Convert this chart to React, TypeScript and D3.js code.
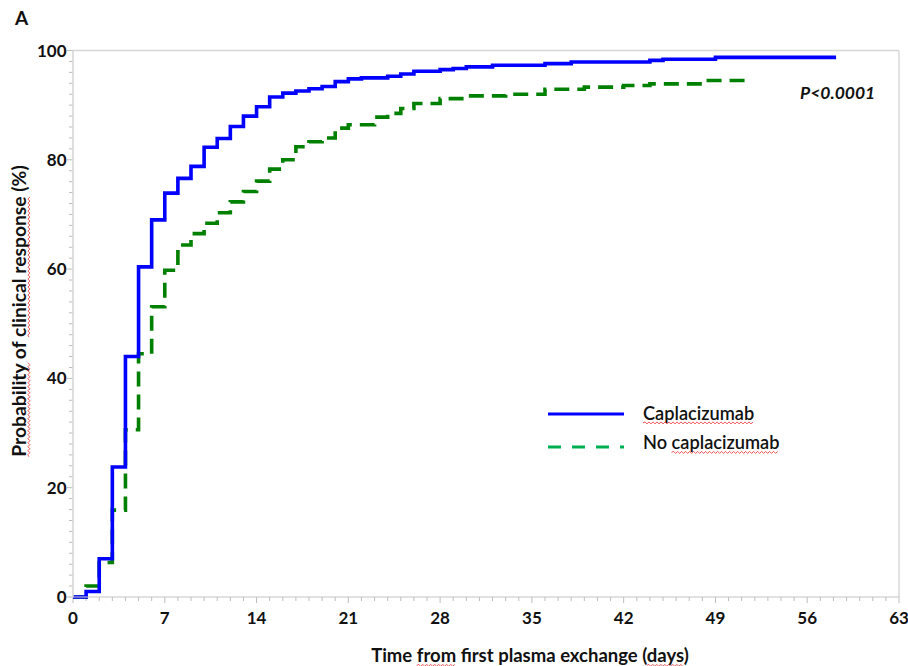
import React, { useEffect, useRef } from "react";
import * as d3 from "d3";

const W = 908;
const H = 666;

// Kaplan–Meier curves: day of each step and cumulative clinical response (%) after it
const caplaDays = [0, 1, 2, 3, 4, 5, 6, 7, 8, 9, 10, 11, 12, 13, 14, 15, 16, 17, 18, 19, 20, 21, 22, 24, 25, 26, 28, 29, 30, 32, 36, 38, 44, 45, 49];
const caplaPct = [0, 1.0, 7.0, 23.8, 44.0, 60.4, 69.0, 73.9, 76.6, 78.8, 82.3, 83.9, 86.1, 88.0, 89.7, 91.5, 92.2, 92.6, 93.0, 93.4, 94.3, 94.8, 95.0, 95.3, 95.7, 96.2, 96.5, 96.7, 97.0, 97.3, 97.6, 97.9, 98.2, 98.4, 98.75];
const caplaLastDay = 58.2;

const noCaplaDays = [0, 1, 2, 3, 4, 5, 6, 7, 8, 9, 10, 11, 12, 13, 14, 15, 16, 17, 18, 19, 20, 21, 23, 24, 25, 26, 28, 30, 33, 36, 39, 42, 44, 48];
const noCaplaPct = [0, 2.0, 6.3, 15.9, 30.6, 44.5, 53.1, 59.8, 64.4, 66.5, 68.4, 70.3, 72.3, 74.2, 76.1, 78.3, 80.0, 82.4, 83.3, 84.0, 85.8, 86.4, 87.8, 88.5, 89.4, 90.3, 91.2, 91.7, 92.0, 92.9, 93.3, 93.6, 93.9, 94.5];
const noCaplaLastDay = 51.8;

const xTickValues = [0, 7, 14, 21, 28, 35, 42, 49, 56, 63];
const yTickValues = [0, 20, 40, 60, 80, 100];
const seriesNames = ["Caplacizumab", "No caplacizumab"];
const pValueText = "P<0.0001";
const panelLabel = "A";
const xTitleParts = [
  { t: "Time ", wavy: false },
  { t: "from", wavy: true },
  { t: " first plasma exchange (", wavy: false },
  { t: "days", wavy: true },
  { t: ")", wavy: false },
];
const yTitleParts = [
  { t: "Probability", wavy: true },
  { t: " of ", wavy: false },
  { t: "clinical response", wavy: true },
  { t: " (%)", wavy: false },
];

const FONT = "Lato, 'Open Sans', 'DejaVu Sans', sans-serif";
const AXIS_GREY = "#d6d6d6";
const TICK_GREY = "#bdbdbd";
const BLUE = "#0000ff";
const GREEN = "#008000";
const LEGEND_GREEN = "#00b050";

const x = d3.scaleLinear().domain([0, 63]).range([73, 899]);
const y = d3.scaleLinear().domain([0, 100]).range([597, 50.5]);

function stepPoints(days: number[], pct: number[], lastDay: number): [number, number][] {
  const pts: [number, number][] = days.map((d, i) => [d, pct[i]]);
  pts.push([lastDay, pct[pct.length - 1]]);
  return pts;
}

const stepLine = d3
  .line<[number, number]>()
  .x((d) => x(d[0]))
  .y((d) => y(d[1]))
  .curve(d3.curveStepAfter);

// Spell-check style red wavy line under a word
function wavyPath(x0: number, x1: number, yy: number): string {
  const step = 2;
  let p = `M${x0},${yy}`;
  let up = true;
  for (let xx = x0 + step; xx <= x1; xx += step) {
    p += ` L${xx},${yy + (up ? -1 : 1)}`;
    up = !up;
  }
  return p;
}

function WavyText(props: {
  parts: { t: string; wavy: boolean }[];
  x: number;
  y: number;
  anchor: "start" | "middle" | "end";
  transform?: string;
  fontSize: number;
  fontWeight?: string | number;
}) {
  const gRef = useRef<SVGGElement>(null);
  useEffect(() => {
    const g = gRef.current;
    if (!g) return;
    const segs: { x0: number; x1: number; y: number }[] = [];
    d3.select(g)
      .selectAll<SVGTSpanElement, unknown>("tspan.wv")
      .each(function () {
        const b = this.getBBox();
        segs.push({ x0: b.x, x1: b.x + b.width, y: props.y + 3.4 });
      });
    d3.select(g)
      .selectAll("path.wave")
      .data(segs)
      .join("path")
      .attr("class", "wave")
      .attr("d", (s) => wavyPath(s.x0, s.x1, s.y))
      .attr("fill", "none")
      .attr("stroke", "#e8262a")
      .attr("stroke-width", 0.8);
  }, []);
  return (
    <g ref={gRef} transform={props.transform}>
      <text
        x={props.x}
        y={props.y}
        textAnchor={props.anchor}
        fontFamily={FONT}
        fontSize={props.fontSize}
        fontWeight={props.fontWeight ?? "bold"}
        fill="#111"
      >
        {props.parts.map((p, i) => (
          <tspan key={i} className={p.wavy ? "wv" : undefined}>
            {p.t}
          </tspan>
        ))}
      </text>
    </g>
  );
}

export default function App() {
  const caplaPts = stepPoints(caplaDays, caplaPct, caplaLastDay);
  const noCaplaPts = stepPoints(noCaplaDays, noCaplaPct, noCaplaLastDay);
  const xMinor = d3.range(0, 64, 1);
  const yMinor = d3.range(0, 101, 2);
  const [x0, x1] = x.range();
  const [y0, y1] = y.range();

  return (
    <svg
      width={W}
      height={H}
      viewBox={`0 0 ${W} ${H}`}
      style={{ position: "absolute", left: 0, top: 0, background: "#fff" }}
    >
      <rect width={W} height={H} fill="#fff" />

      {/* panel letter */}
      <text x={15} y={25} fontFamily={FONT} fontWeight="bold" fontSize={19} fill="#111">
        {panelLabel}
      </text>

      {/* frame */}
      <line x1={x0} x2={x1} y1={y1} y2={y1} stroke={AXIS_GREY} strokeWidth={1.4} />
      <line x1={x1} x2={x1} y1={y1} y2={y0} stroke={AXIS_GREY} strokeWidth={1.4} />

      {/* minor & major ticks */}
      {xMinor.map((d) => (
        <line
          key={"xt" + d}
          x1={x(d)}
          x2={x(d)}
          y1={y0}
          y2={y0 + (d % 7 === 0 ? 6 : 4)}
          stroke={TICK_GREY}
          strokeWidth={1}
        />
      ))}
      {yMinor.map((d) => (
        <line
          key={"yt" + d}
          x1={x0 - (d % 20 === 0 ? 6 : 4)}
          x2={x0}
          y1={y(d)}
          y2={y(d)}
          stroke={TICK_GREY}
          strokeWidth={1}
        />
      ))}

      {/* curves */}
      <path
        d={stepLine(noCaplaPts) ?? ""}
        fill="none"
        stroke={GREEN}
        strokeWidth={3.6}
        strokeDasharray="15 8"
      />
      <path d={stepLine(caplaPts) ?? ""} fill="none" stroke={BLUE} strokeWidth={3.6} />

      {/* axes drawn over the curves */}
      <line x1={x0} x2={x0} y1={y1} y2={y0} stroke={AXIS_GREY} strokeWidth={1.6} />
      <line x1={x0} x2={x1} y1={y0} y2={y0} stroke="#c8c8c8" strokeOpacity={0.55} strokeWidth={2.2} />

      {/* tick labels */}
      {yTickValues.map((v) => (
        <text
          key={"yl" + v}
          x={66.5}
          y={y(v) + 6}
          textAnchor="end"
          fontFamily={FONT}
          fontWeight="bold"
          fontSize={17}
          fill="#111"
        >
          {v}
        </text>
      ))}
      {xTickValues.map((v) => (
        <text
          key={"xl" + v}
          x={x(v)}
          y={624}
          textAnchor="middle"
          fontFamily={FONT}
          fontWeight="bold"
          fontSize={17}
          fill="#111"
        >
          {v}
        </text>
      ))}

      {/* axis titles */}
      <WavyText parts={xTitleParts} x={530} y={662} anchor="middle" fontSize={18.5} />
      <WavyText
        parts={yTitleParts}
        x={0}
        y={0}
        anchor="middle"
        fontSize={19.3}
        transform={`translate(25.5,311) rotate(-90)`}
      />

      {/* p-value */}
      <text
        x={800}
        y={98.5}
        fontFamily={FONT}
        fontWeight="bold"
        fontStyle="italic"
        fontSize={17.5}
        fill="#111"
      >
        {pValueText}
      </text>

      {/* legend */}
      <line x1={548} x2={624} y1={414} y2={414} stroke={BLUE} strokeWidth={3} />
      <line
        x1={548}
        x2={624}
        y1={447}
        y2={447}
        stroke={LEGEND_GREEN}
        strokeWidth={3}
        strokeDasharray="13 11"
      />
      <WavyText
        parts={[{ t: seriesNames[0], wavy: true }]}
        x={643}
        y={419.5}
        anchor="start"
        fontSize={18.2}
        fontWeight={600}
      />
      <WavyText
        parts={[
          { t: "No ", wavy: false },
          { t: seriesNames[1].replace("No ", ""), wavy: true },
        ]}
        x={643}
        y={449}
        anchor="start"
        fontSize={18.2}
        fontWeight={600}
      />
    </svg>
  );
}
